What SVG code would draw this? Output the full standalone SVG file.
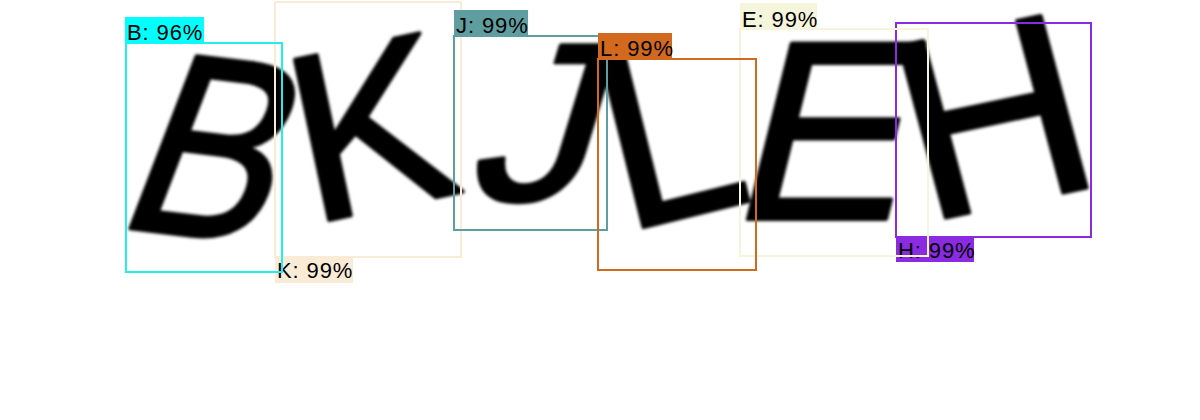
<svg xmlns="http://www.w3.org/2000/svg" width="1200" height="420" viewBox="0 0 1200 420">
  <defs>
    <filter id="blur" x="-10%" y="-10%" width="120%" height="120%">
      <feGaussianBlur stdDeviation="1.6"/>
    </filter>
    <style>
      .glyph { font-family: "Liberation Sans", Arial, sans-serif; fill: #000; stroke: #000; stroke-width: 4; stroke-linejoin: round; }
      .box { fill: none; stroke-width: 2; }
      .lbl { font-family: "Liberation Sans", Arial, sans-serif; font-size: 22px; letter-spacing: 0.9px; fill: #000; }
    </style>
  </defs>
  <rect width="1200" height="420" fill="#fff"/>
  <g id="image" filter="url(#blur)">
    <text class="glyph" font-size="260" transform="translate(112,226) rotate(7) skewX(-14) scale(0.86,1)">B</text>
    <text class="glyph" font-size="238" transform="translate(310,224) rotate(-12)">K</text>
    <text class="glyph" font-size="225" transform="translate(464,200) skewX(-17) scale(1.1,1)">J</text>
    <text class="glyph" font-size="245" transform="translate(624,232) rotate(-14)">L</text>
    <text class="glyph" font-size="255" transform="translate(727,219) skewX(-14)">E</text>
    <text class="glyph" font-size="258" transform="translate(925,222) rotate(-12) skewX(3)">H</text>
  </g>
  <g id="det-K">
    <rect class="box" x="275" y="2" width="186" height="255" stroke="#FAEBD7"/>
    <rect x="275" y="257" width="78" height="26" fill="#FAEBD7"/>
    <text class="lbl" x="277" y="278">K: 99%</text>
  </g>
  <g id="det-J">
    <rect class="box" x="454" y="36" width="153" height="194" stroke="#5F9EA0"/>
    <rect x="454" y="10" width="74" height="26" fill="#5F9EA0"/>
    <text class="lbl" x="456" y="33">J: 99%</text>
  </g>
  <g id="det-B">
    <rect class="box" x="126" y="43" width="156" height="229" stroke="#22EEEE"/>
    <rect x="125" y="17" width="79" height="26" fill="#00FFFF"/>
    <text class="lbl" x="127" y="40">B: 96%</text>
  </g>
  <g id="det-H">
    <rect class="box" x="896" y="23" width="195" height="214" stroke="#8A2BE2"/>
    <rect x="896" y="237" width="78" height="25" fill="#8A2BE2"/>
    <text class="lbl" x="898" y="258">H: 99%</text>
  </g>
  <g id="det-E">
    <rect class="box" x="740" y="29" width="188" height="227" stroke="#F5F5DC"/>
    <rect x="740" y="3" width="77" height="26" fill="#F5F5DC"/>
    <text class="lbl" x="742" y="27">E: 99%</text>
  </g>
  <g id="det-L">
    <rect class="box" x="598" y="59" width="158" height="211" stroke="#D2691E"/>
    <rect x="598" y="33" width="74" height="26" fill="#D2691E"/>
    <text class="lbl" x="600" y="56">L: 99%</text>
  </g>
</svg>
